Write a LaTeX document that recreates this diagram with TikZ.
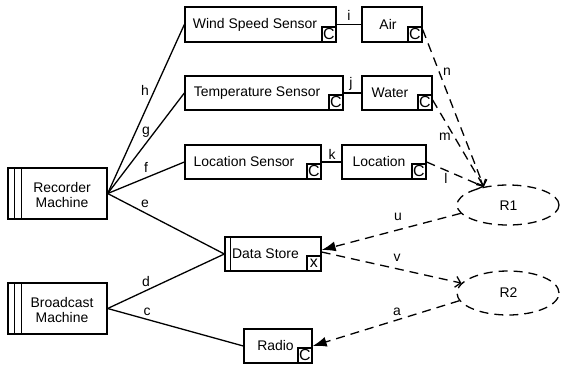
\documentclass[tikz,border=0pt]{standalone}
\usepackage{fontspec}
\setmainfont{Liberation Sans}
\usetikzlibrary{arrows.meta,shapes.geometric}
\begin{document}
\begin{tikzpicture}[x=1bp,y=-1bp,
  box/.style={draw,line width=1.3bp,inner sep=0pt,minimum height=34bp},
  cbox/.style={draw,line width=1.5bp,inner sep=0pt,minimum width=14bp,minimum height=15bp,anchor=south east,font=\fontsize{16}{16}\selectfont},
  txt/.style={inner sep=0pt,font=\fontsize{14}{16}\selectfont,align=center},
  lbl/.style={inner sep=0pt,font=\fontsize{14}{16}\selectfont},
  conn/.style={line width=1.3bp},
  dconn/.style={line width=1.3bp,dash pattern=on 9bp off 6bp},
  rel/.style={draw,ellipse,line width=1.3bp,dash pattern=on 9bp off 6bp,inner sep=0pt},
  filled/.style={-{Latex[length=14bp,width=10bp]}},
  opentip/.style={-{Straight Barb[length=5bp,width=11bp]}}
]
\useasboundingbox (0,0) rectangle (563,367);
% boxes
\node[box,minimum width=151bp,minimum height=35bp] (ws) at (260.5,24.5) {};
\node[cbox] (wsc) at (ws.south east) {C};
\node[txt] (wst) at (255,24.5) {Wind Speed Sensor};
\node[box,minimum width=60bp,minimum height=35bp] (air) at (392,24.5) {};
\node[cbox] (airc) at (air.south east) {C};
\node[txt] (airt) at (388,24.5) {Air};

\node[box,minimum width=158bp] (ts) at (264,93) {};
\node[cbox] (tsc) at (ts.south east) {C};
\node[txt] (tst) at (257,93) {Temperature Sensor};
\node[box,minimum width=70bp] (water) at (397,93) {};
\node[cbox] (waterc) at (water.south east) {C};
\node[txt] (watert) at (390,93) {Water};

\node[box,minimum width=136bp] (ls) at (253,162) {};
\node[cbox] (lsc) at (ls.south east) {C};
\node[txt] (lst) at (244,162) {Location Sensor};
\node[box,minimum width=84bp] (loc) at (384,162) {};
\node[cbox] (locc) at (loc.south east) {C};
\node[txt] (loct) at (379,162) {Location};

\node[box,minimum width=99bp,minimum height=51bp] (rec) at (57.5,193.5) {};
\draw[line width=1.3bp] ([xshift=7bp]rec.north west) -- ([xshift=7bp]rec.south west);
\draw[line width=1.3bp] ([xshift=14bp]rec.north west) -- ([xshift=14bp]rec.south west);
\node[txt] (rect) at (62,195) {Recorder\\Machine};

\node[box,minimum width=99bp,minimum height=51bp] (bc) at (57.5,308.5) {};
\draw[line width=1.3bp] ([xshift=7bp]bc.north west) -- ([xshift=7bp]bc.south west);
\draw[line width=1.3bp] ([xshift=14bp]bc.north west) -- ([xshift=14bp]bc.south west);
\node[txt] (bct) at (62,310) {Broadcast\\Machine};

\node[box,minimum width=96bp] (ds) at (273,254) {};
\draw[line width=1.3bp] ([xshift=6bp]ds.north west) -- ([xshift=6bp]ds.south west);
\node[cbox] (dsc) at (ds.south east) {x};
\node[txt] (dst) at (265.5,254) {Data Store};

\node[box,minimum width=68bp] (radio) at (278,346) {};
\node[cbox] (radioc) at (radio.south east) {C};
\node[txt] (radiot) at (275.5,346) {Radio};

\node[rel,minimum width=102bp,minimum height=40bp] (r1) at (508,205) {};
\node[txt] (r1t) at (508.5,206) {R1};
\node[rel,minimum width=102bp,minimum height=44bp] (r2) at (508,293) {};
\node[txt] (r2t) at (508.5,293) {R2};

% solid connectors
\draw[conn] (rec.east) -- (ws.west);
\draw[conn] (rec.east) -- (ts.west);
\draw[conn] (rec.east) -- (ls.west);
\draw[conn] (rec.east) -- (ds.west);
\draw[conn] (bc.east) -- (ds.west);
\draw[conn] (bc.east) -- (radio.west);
\draw[conn] (ws.east) -- (air.west);
\draw[conn] (ts.east) -- (water.west);
\draw[conn] (ls.east) -- (loc.west);

% dashed connectors
\coordinate (r1in) at (r1.143);
\draw[dconn,opentip] ([yshift=-5bp]air.east) -- (r1in);
\draw[dconn,opentip] ([yshift=-7bp]water.east) -- (r1in);
\draw[dconn,opentip] (loc.east) -- (r1in);
\draw[dconn,filled] (r1.190) -- ([yshift=4bp]ds.east);
\draw[dconn,opentip] ([yshift=2bp]ds.east) -- (r2.168);
\draw[dconn,filled] (r2.189) -- (radio.east);

% labels
\node[lbl] (lh) at (145,90) {h};
\node[lbl] (lg) at (146,132) {g};
\node[lbl] (lf) at (146,167) {f};
\node[lbl] (le) at (145,203.5) {e};
\node[lbl] (ld) at (146,282) {d};
\node[lbl] (lc) at (147,312) {c};
\node[lbl] (li) at (349,15) {i};
\node[lbl] (lj) at (351,84) {j};
\node[lbl] (lk) at (332,154) {k};
\node[lbl] (ln) at (447,72) {n};
\node[lbl] (lm) at (445,137) {m};
\node[lbl] (ll) at (446,178) {l};
\node[lbl] (lu) at (398,217) {u};
\node[lbl] (lv) at (397,258) {v};
\node[lbl] (la) at (397,312) {a};
\end{tikzpicture}
\end{document}
